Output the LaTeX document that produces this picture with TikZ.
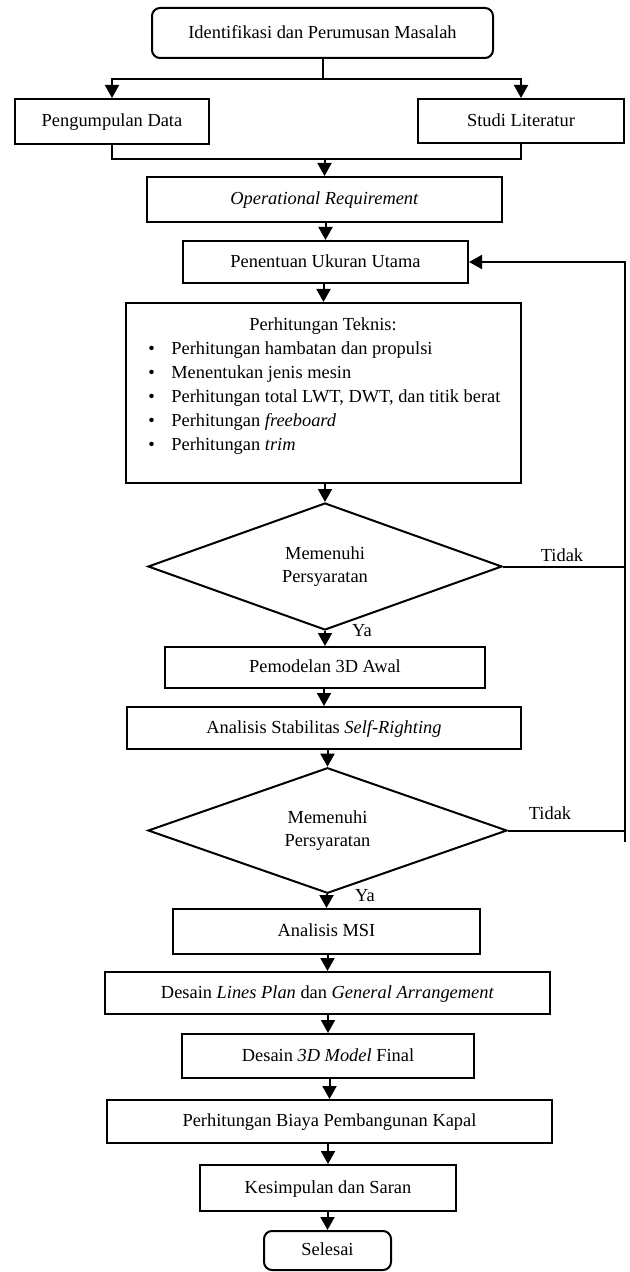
\documentclass[tikz,border=0pt]{standalone}
\usepackage{fontspec}
\setmainfont{Liberation Serif}
\usetikzlibrary{arrows.meta,shapes.geometric}
\newcommand{\bulitem}{\makebox[11.5pt][l]{\textbullet}}
\begin{document}
\begin{tikzpicture}[x=0.5pt,y=-0.5pt,
  every node/.style={font=\fontsize{9.2}{11.5}\selectfont},
  box/.style={draw, line width=1pt, inner sep=0pt, align=center, text height=6.4pt, text depth=1.2pt},
  term/.style={box, rounded corners=4pt},
  dec/.style={draw, line width=1pt, diamond, inner sep=0pt, align=center},
  arr/.style={line width=1pt, -{Triangle[width=7pt,length=6.5pt]}},
  ln/.style={line width=1pt},
  lbl/.style={inner sep=0pt}]
\useasboundingbox (0,0) rectangle (629,1272);

\node[term, minimum width=170.5pt, minimum height=25pt] (top) at (322.5,33) {Identifikasi dan Perumusan Masalah};
\node[box, minimum width=97pt, minimum height=22.5pt] (pd) at (112,121.5) {Pengumpulan Data};
\node[box, minimum width=103pt, minimum height=22pt] (sl) at (521,121) {Studi Literatur};
\node[box, minimum width=177.5pt, minimum height=22.5pt] (or) at (324.5,199.5) {\textit{Operational Requirement}};
\node[box, minimum width=142.5pt, minimum height=21pt] (puu) at (325.5,262) {Penentuan Ukuran Utama};
\node[box, minimum width=197.5pt, minimum height=90pt] (pt) at (323.5,393) {};
\node[lbl] (ptt) at (323,326) {Perhitungan Teknis:};
\node[lbl, anchor=west, align=left, font=\fontsize{9.2}{12}\selectfont] (ptl) at (148,398) {%
\bulitem Perhitungan hambatan dan propulsi\\
\bulitem Menentukan jenis mesin\\
\bulitem Perhitungan total LWT, DWT, dan titik berat\\
\bulitem Perhitungan \textit{freeboard}\\
\bulitem Perhitungan \textit{trim}};
\node[dec, minimum width=177pt, minimum height=63.5pt] (d1) at (325,566.5) {Memenuhi\\Persyaratan};
\node[box, minimum width=160pt, minimum height=20.5pt] (pm) at (325,667.5) {Pemodelan 3D Awal};
\node[box, minimum width=197pt, minimum height=21pt] (as) at (324,728) {Analisis Stabilitas \textit{Self-Righting}};
\node[dec, minimum width=179.5pt, minimum height=62.5pt] (d2) at (327.5,830.5) {Memenuhi\\Persyaratan};
\node[box, minimum width=153.5pt, minimum height=22.5pt] (msi) at (326.5,931.5) {Analisis MSI};
\node[box, minimum width=222.5pt, minimum height=21pt] (lp) at (327.5,993) {Desain \textit{Lines Plan} dan \textit{General Arrangement}};
\node[box, minimum width=146pt, minimum height=22pt] (m3d) at (328,1056) {Desain \textit{3D Model} Final};
\node[box, minimum width=222.5pt, minimum height=21.5pt] (pb) at (329.5,1121.5) {Perhitungan Biaya Pembangunan Kapal};
\node[box, minimum width=128pt, minimum height=23pt] (ks) at (328,1188) {Kesimpulan dan Saran};
\node[term, minimum width=63.5pt, minimum height=19.5pt] (sel) at (327.5,1250.5) {Selesai};

% labels
\node[lbl] (t1) at (562,555) {Tidak};
\node[lbl] (t2) at (550,813) {Tidak};
\node[lbl] (y1) at (362,631) {Ya};
\node[lbl] (y2) at (365,896) {Ya};

% split and merge
\coordinate (split) at (322.5,79);
\coordinate (merge) at (324.5,159);
\draw[ln] (top.south) -- (split);
\draw[arr] (split) -| (pd.north);
\draw[arr] (split) -| (sl.north);
\draw[ln] (pd.south) |- (merge);
\draw[ln] (sl.south) |- (merge);
\draw[arr] (merge) -- (or.north);

% main chain
\draw[arr] (puu.north |- or.south) -- (puu.north);
\draw[arr] (pt.north |- puu.south) -- (pt.north);
\draw[arr] (d1.north |- pt.south) -- (d1.north);
\draw[arr] (d1.south) -- (pm.north);
\draw[arr] (as.north |- pm.south) -- (as.north);
\draw[arr] (d2.north |- as.south) -- (d2.north);
\draw[arr] (msi.north |- d2.south) -- (msi.north);
\draw[arr] (lp.north |- msi.south) -- (lp.north);
\draw[arr] (m3d.north |- lp.south) -- (m3d.north);
\draw[arr] (pb.north |- m3d.south) -- (pb.north);
\draw[arr] (ks.north |- pb.south) -- (ks.north);
\draw[arr] (sel.north |- ks.south) -- (sel.north);

% feedback
\coordinate (fbT) at (625,262);
\coordinate (fbB) at (625,842);
\draw[ln] (d1.east) -- (d1.east -| fbT);
\draw[ln] (d2.east) -- (d2.east -| fbT);
\draw[arr] (fbB) -- (fbT) -- (puu.east);
\end{tikzpicture}
\end{document}
